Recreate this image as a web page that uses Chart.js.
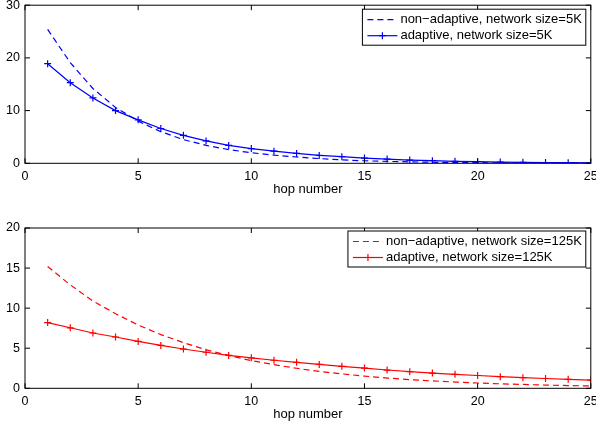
<!DOCTYPE html>
<html>
<head>
<meta charset="utf-8">
<script src="https://cdn.jsdelivr.net/npm/chart.js@4/dist/chart.umd.min.js"></script>
<style>
  html, body { margin: 0; padding: 0; background: #fff; }
  canvas { position: absolute; left: 0; }
  #top-chart { top: 0; }
  #bottom-chart { top: 214px; }
</style>
</head>
<body>
<canvas id="top-chart" width="596" height="214"></canvas>
<canvas id="bottom-chart" width="596" height="213"></canvas>
<script>
// hop numbers on the x axis
const hops = [1, 2, 3, 4, 5, 6, 7, 8, 9, 10, 11, 12, 13, 14, 15, 16, 17, 18, 19, 20, 21, 22, 23, 24, 25];

// top plot, network size 5K
const nonAdaptive5K = [25.4, 19.1, 14.2, 10.6, 8.0, 6.0, 4.5, 3.4, 2.6, 2.0, 1.55, 1.2, 0.9, 0.65, 0.48, 0.36, 0.27, 0.2, 0.15, 0.12, 0.09, 0.07, 0.05, 0.04, 0.03];
const adaptive5K = [18.9, 15.3, 12.4, 10.0, 8.25, 6.6, 5.3, 4.25, 3.4, 2.8, 2.3, 1.87, 1.5, 1.25, 1.0, 0.8, 0.62, 0.5, 0.38, 0.3, 0.24, 0.19, 0.15, 0.12, 0.1];

// bottom plot, network size 125K
const nonAdaptive125K = [15.2, 12.9, 10.9, 9.3, 7.9, 6.7, 5.7, 4.8, 4.1, 3.45, 2.95, 2.5, 2.1, 1.8, 1.52, 1.28, 1.08, 0.92, 0.78, 0.66, 0.56, 0.48, 0.4, 0.34, 0.29];
const adaptive125K = [8.2, 7.55, 6.9, 6.4, 5.85, 5.35, 4.9, 4.5, 4.1, 3.8, 3.5, 3.24, 2.98, 2.74, 2.52, 2.28, 2.08, 1.9, 1.74, 1.6, 1.45, 1.33, 1.22, 1.12, 1.03];

const xTitle = "hop number";
const FONT = '"Liberation Sans", Arial, sans-serif';

// draws the matlab style box, inward ticks and the boxed legend
const matlabAxes = {
  id: "matlabAxes",
  afterDraw(chart, args, opts) {
    const { ctx, chartArea: a, scales: { x, y } } = chart;
    const tick = 5;
    ctx.save();
    ctx.strokeStyle = "#000";
    ctx.lineWidth = 1;
    ctx.setLineDash([]);
    ctx.strokeRect(a.left, a.top, a.right - a.left, a.bottom - a.top);
    ctx.beginPath();
    x.ticks.forEach(t => {
      const px = x.getPixelForValue(t.value);
      ctx.moveTo(px, a.bottom); ctx.lineTo(px, a.bottom - tick);
      ctx.moveTo(px, a.top); ctx.lineTo(px, a.top + tick);
    });
    y.ticks.forEach(t => {
      const py = y.getPixelForValue(t.value);
      ctx.moveTo(a.left, py); ctx.lineTo(a.left + tick, py);
      ctx.moveTo(a.right, py); ctx.lineTo(a.right - tick, py);
    });
    ctx.stroke();

    // legend
    const sets = chart.data.datasets;
    ctx.font = "13px " + FONT;
    let textW = 0;
    sets.forEach(d => { textW = Math.max(textW, ctx.measureText(d.label).width); });
    const boxW = 5 + 30 + 3 + textW + 4;
    const boxH = 36;
    const right = a.right - 5;
    const left = right - boxW;
    const top = a.top + opts.legendTop;
    ctx.fillStyle = "#fff";
    ctx.fillRect(left, top, boxW, boxH);
    ctx.strokeRect(left, top, boxW, boxH);
    sets.forEach((d, i) => {
      const ry = top + 10.5 + 16 * i;
      ctx.strokeStyle = d.borderColor;
      ctx.lineWidth = d.borderWidth;
      ctx.setLineDash(d.borderDash || []);
      ctx.beginPath();
      ctx.moveTo(left + 5, ry);
      ctx.lineTo(left + 35, ry);
      ctx.stroke();
      ctx.setLineDash([]);
      if (d.pointRadius > 0) {
        const cx = left + 20, r = d.pointRadius;
        ctx.beginPath();
        ctx.moveTo(cx - r, ry); ctx.lineTo(cx + r, ry);
        ctx.moveTo(cx, ry - r); ctx.lineTo(cx, ry + r);
        ctx.stroke();
      }
      ctx.fillStyle = "#000";
      ctx.textBaseline = "middle";
      ctx.textAlign = "left";
      ctx.fillText(d.label, left + 38, ry);
    });
    ctx.restore();
  }
};

function series(values) {
  return values.map((v, i) => ({ x: hops[i], y: v }));
}

function makeChart(id, color, dashedLabel, dashedValues, solidLabel, solidValues, yMax, yStep, pad, legendTop) {
  return new Chart(document.getElementById(id), {
    type: "line",
    data: {
      datasets: [{
        label: dashedLabel,
        data: series(dashedValues),
        borderColor: color,
        borderWidth: 1.2,
        borderDash: [6, 4],
        pointRadius: 0,
        fill: false,
        tension: 0
      }, {
        label: solidLabel,
        data: series(solidValues),
        borderColor: color,
        borderWidth: 1.2,
        pointStyle: "cross",
        pointRadius: 3.5,
        pointBorderWidth: 1.2,
        pointBorderColor: color,
        fill: false,
        tension: 0
      }]
    },
    options: {
      responsive: false,
      animation: false,
      layout: { padding: pad },
      plugins: {
        legend: { display: false },
        tooltip: { enabled: false },
        matlabAxes: { legendTop: legendTop }
      },
      scales: {
        x: {
          type: "linear",
          min: 0,
          max: 25,
          grid: { display: false, drawTicks: false },
          border: { display: false },
          ticks: { stepSize: 5, padding: 6, color: "#000", font: { family: FONT, size: 12.5 } },
          title: { display: true, text: xTitle, color: "#000", padding: 0, font: { family: FONT, size: 13 } },
          afterFit: s => { s.height = 34; s.paddingLeft = 0; s.paddingRight = 0; }
        },
        y: {
          min: 0,
          max: yMax,
          grid: { display: false, drawTicks: false },
          border: { display: false },
          ticks: { stepSize: yStep, padding: 5, color: "#000", font: { family: FONT, size: 12.5 } },
          afterFit: s => { s.width = 25; s.paddingTop = 0; s.paddingBottom = 0; }
        }
      }
    },
    plugins: [matlabAxes]
  });
}

makeChart("top-chart", "#0000ff",
  "non\u2212adaptive, network size=5K", nonAdaptive5K,
  "adaptive, network size=5K", adaptive5K,
  30, 10, { top: 3, right: 4.3, bottom: 16.7, left: 0 }, 4);

makeChart("bottom-chart", "#ff0000",
  "non\u2212adaptive, network size=125K", nonAdaptive125K,
  "adaptive, network size=125K", adaptive125K,
  20, 5, { top: 14, right: 4.3, bottom: 4.7, left: 0 }, 3);
</script>
</body>
</html>
